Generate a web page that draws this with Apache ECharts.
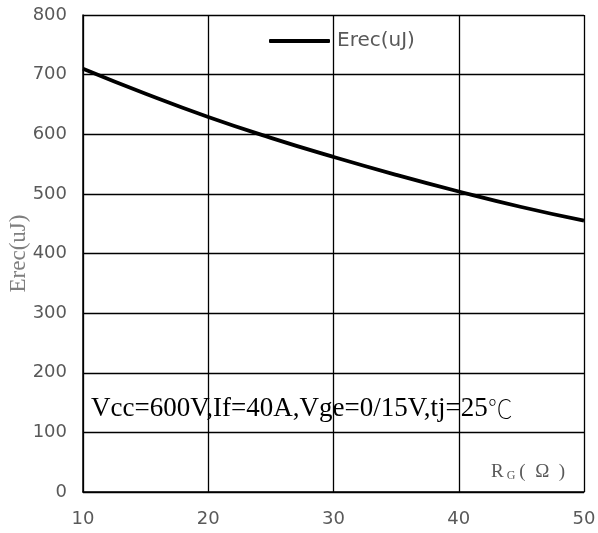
<!DOCTYPE html>
<html><head><meta charset="utf-8">
<script src="https://cdn.jsdelivr.net/npm/echarts@6/dist/echarts.min.js"></script>
<style>html,body{margin:0;padding:0;background:#fff}#c{width:598px;height:533px}</style>
</head><body><div id="c"></div>
<script>
var rgValues = [10, 15, 20, 25, 30, 35, 40, 45, 50];
var erecValues = [710, 668, 629, 594, 562, 532, 504, 478, 455];
var seriesName = 'Erec(uJ)';
var yAxisName = 'Erec(uJ)';
var conditionMain = 'Vcc=600V,If=40A,Vge=0/15V,tj=25';
var conditionUnit = '℃';

var chart = echarts.init(document.getElementById('c'), null, {renderer: 'canvas'});
chart.setOption({
  animation: false,
  grid: {left: 83, right: 14, top: 15, bottom: 41, containLabel: false, outerBoundsMode: 'none'},
  legend: {
    left: 269, top: 31, padding: 0,
    icon: 'roundRect',
    itemWidth: 61, itemHeight: 4, itemGap: 4,
    textStyle: {fontFamily: 'DejaVu Sans', fontSize: 20, color: '#595959', padding: [0, 0, 0, 2]},
    data: [seriesName]
  },
  xAxis: {
    type: 'value', min: 10, max: 50, interval: 10,
    axisLine: {show: true, lineStyle: {color: '#000', width: 1.5}},
    axisTick: {show: false},
    splitLine: {show: true, lineStyle: {color: '#000', width: 1.3}},
    axisLabel: {fontFamily: 'DejaVu Sans', fontSize: 18, color: '#595959', margin: 18}
  },
  yAxis: {
    type: 'value', min: 0, max: 800, interval: 100,
    name: yAxisName, nameLocation: 'middle', nameGap: 53, nameRotate: 90, nameMoveOverlap: false,
    nameTextStyle: {fontFamily: 'Liberation Serif', fontSize: 23, color: '#7f7f7f'},
    axisLine: {show: true, lineStyle: {color: '#000', width: 1.5}},
    axisTick: {show: false},
    splitLine: {show: true, lineStyle: {color: '#000', width: 1.3}},
    axisLabel: {fontFamily: 'DejaVu Sans', fontSize: 18, color: '#595959', margin: 16}
  },
  series: [{
    name: seriesName, type: 'line', smooth: true, symbol: 'none',
    lineStyle: {color: '#000', width: 3.8},
    itemStyle: {color: '#000'},
    data: rgValues.map(function (x, i) { return [x, erecValues[i]]; })
  }],
  graphic: [
    {type: 'text', left: 91, top: 395,
     style: {text: '{a|' + conditionMain + '}{b|' + conditionUnit + '}',
       rich: {a: {fontFamily: 'Liberation Serif', fontSize: 27, fill: '#000'},
              b: {fontFamily: 'Noto Sans CJK SC', fontWeight: 'lighter', fontSize: 25, fill: '#000'}}}},
    {type: 'text', left: 491, top: 463,
     style: {text: '{r|R}{g|G}{r|(  Ω  )}', fill: '#595959',
       rich: {r: {fontFamily: 'Liberation Serif', fontSize: 19, fill: '#595959', padding: [0, 3, 0, 0]},
              g: {fontFamily: 'Liberation Serif', fontSize: 12, fill: '#595959', verticalAlign: 'bottom', padding: [6, 4, 0, 0]}}}}
  ]
});
</script></body></html>
